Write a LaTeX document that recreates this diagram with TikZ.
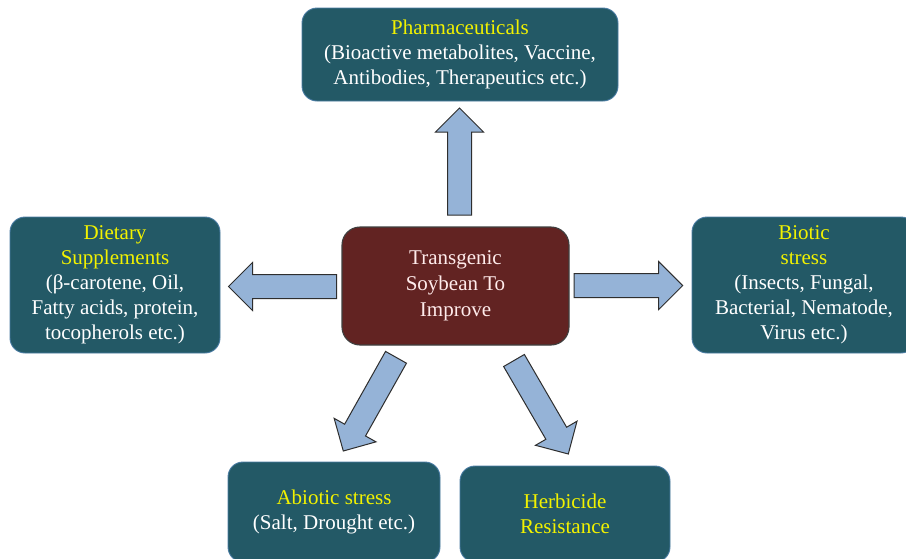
\documentclass[tikz,border=0pt]{standalone}
\usepackage{fontspec}
\setmainfont{Liberation Serif}
\usetikzlibrary{calc}
\definecolor{boxteal}{HTML}{235966}
\definecolor{boxedge}{HTML}{4A7CA3}
\definecolor{corefill}{HTML}{622322}
\definecolor{coreedge}{HTML}{3F3F3F}
\definecolor{arrfill}{HTML}{95B3D7}
\definecolor{arredge}{HTML}{2E2E2E}
\definecolor{titleyellow}{HTML}{F2F200}
\tikzset{
  sidebox/.style={draw=boxedge, line width=0.9pt, fill=boxteal, rounded corners=15pt,
    text=white, align=center, font=\fontsize{21}{25}\selectfont, inner sep=0pt},
  corebox/.style={draw=coreedge, line width=1.1pt, fill=corefill, rounded corners=18pt,
    text=white!92!red, align=center, font=\fontsize{21}{26}\selectfont, inner sep=0pt},
  blockarrow/.style={draw=arredge, line width=1pt, fill=arrfill, line join=miter},
}
\newcommand{\ttl}[1]{\textcolor{titleyellow}{#1}}
\newcommand{\blockarr}[2]{%
  \coordinate (#1hb) at ($(#2)!24pt!(#1)$);
  \draw[blockarrow] ($(#1)!12pt!90:(#2)$) -- ($(#1hb)!12pt!90:(#2)$) -- ($(#1hb)!24pt!90:(#2)$)
    -- (#2) -- ($(#1hb)!24pt!-90:(#2)$) -- ($(#1hb)!12pt!-90:(#2)$) -- ($(#1)!12pt!-90:(#2)$) -- cycle;
}
\begin{document}
\begin{tikzpicture}[x=1pt,y=-1pt]
\clip (0,0) rectangle (906,558);
\fill[white] (0,0) rectangle (906,558);

\node[sidebox, minimum width=316pt, minimum height=93pt] (pharma) at (460,54.5)
  {\ttl{Pharmaceuticals}\\(Bioactive metabolites, Vaccine,\\Antibodies, Therapeutics etc.)};
\node[sidebox, minimum width=210pt, minimum height=136pt] (diet) at (115,285)
  {\ttl{Dietary}\\\ttl{Supplements}\\(β-carotene, Oil,\\Fatty acids, protein,\\tocopherols etc.)};
\node[sidebox, minimum width=224pt, minimum height=136pt] (biotic) at (804,285)
  {\ttl{Biotic}\\\ttl{stress}\\(Insects, Fungal,\\Bacterial, Nematode,\\Virus etc.)};
\node[sidebox, minimum width=212pt, minimum height=100pt] (abiotic) at (334,512)
  {\ttl{Abiotic stress}\\(Salt, Drought etc.)};
\node[sidebox, minimum width=210pt, minimum height=96pt] (herb) at (565,514)
  {\ttl{Herbicide}\\\ttl{Resistance}};
\node[corebox, minimum width=227pt, minimum height=118pt] (core) at (455.5,286)
  {Transgenic\\Soybean To\\Improve};

\coordinate (upT) at (459.5,215);  \coordinate (upH) at (459.5,108);
\coordinate (lfT) at (336.7,286.5); \coordinate (lfH) at (228.5,286.5);
\coordinate (rtT) at (574,285.5);  \coordinate (rtH) at (682.7,285.5);
\coordinate (dlT) at (396,357.3);  \coordinate (dlH) at (343.3,451);
\coordinate (drT) at (514,360.5);  \coordinate (drH) at (568.3,454);

\blockarr{upT}{upH}
\blockarr{lfT}{lfH}
\blockarr{rtT}{rtH}
\blockarr{dlT}{dlH}
\blockarr{drT}{drH}
\end{tikzpicture}
\end{document}
